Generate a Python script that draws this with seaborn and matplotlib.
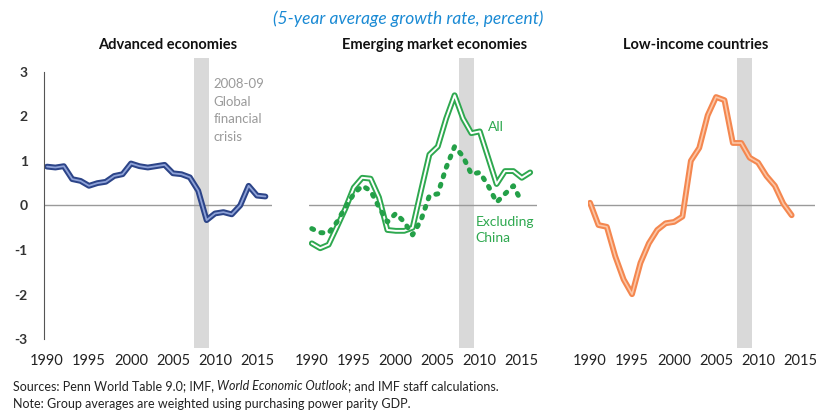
import numpy as np
import pandas as pd
import seaborn as sns
from matplotlib import pyplot as plt

sns.set_style("white")
plt.rcParams['font.family'] = ['Lato', 'DejaVu Sans']

# 5-year average growth rate, percent
years_adv = list(range(1990, 2017))
advanced = [0.87, 0.85, 0.88, 0.59, 0.55, 0.44, 0.50, 0.53, 0.66, 0.70,
            0.94, 0.88, 0.85, 0.88, 0.91, 0.72, 0.70, 0.63, 0.33, -0.33,
            -0.18, -0.15, -0.20, 0.00, 0.44, 0.22, 0.20]

years_em = list(range(1990, 2017))
em_all = [-0.85, -0.96, -0.88, -0.48, -0.07, 0.40, 0.62, 0.60, 0.18, -0.55,
          -0.57, -0.57, -0.50, 0.33, 1.14, 1.32, 1.95, 2.47, 1.95, 1.62,
          1.66, 1.07, 0.48, 0.77, 0.77, 0.62, 0.74]
years_exc = list(range(1990, 2016))
em_ex_china = [-0.52, -0.61, -0.62, -0.37, -0.04, 0.26, 0.44, 0.33, -0.04, -0.37,
               -0.18, -0.37, -0.66, -0.33, 0.22, 0.26, 0.85, 1.32, 1.10, 0.70,
               0.74, 0.44, 0.07, 0.26, 0.44, 0.07]

years_lic = list(range(1990, 2015))
low_income = [0.06, -0.44, -0.48, -1.14, -1.66, -1.99, -1.29, -0.85, -0.55, -0.40,
              -0.37, -0.25, 1.00, 1.29, 2.02, 2.43, 2.36, 1.40, 1.40, 1.07,
              0.96, 0.66, 0.44, 0.04, -0.22]

xticks = [1990, 1995, 2000, 2005, 2010, 2015]

adv_df = pd.DataFrame({"year": years_adv, "value": advanced})
all_df = pd.DataFrame({"year": years_em, "value": em_all})
exc_df = pd.DataFrame({"year": years_exc, "value": em_ex_china})
lic_df = pd.DataFrame({"year": years_lic, "value": low_income})

fig = plt.figure(figsize=(8.16, 4.13), dpi=100)
w = 0.279
bottom, height = 0.157, 0.702
ax1 = fig.add_axes([0.0545, bottom, w, height])
ax2 = fig.add_axes([0.379, bottom, w, height])
ax3 = fig.add_axes([0.72, bottom, w, height])

for ax in (ax1, ax2, ax3):
    ax.set_xlim(1989.7, 2016.8)
    ax.set_ylim(-3.2, 3.3)
    ax.axvspan(2007.5, 2009.3, color="#d9d9d9", lw=0, zorder=0)
    ax.axhline(0, color="#9a9a9a", lw=1, zorder=1)
    for s in ax.spines.values():
        s.set_visible(False)
    ax.set_xticks(xticks)
    ax.set_xticklabels([str(t) for t in xticks], fontsize=10.5, color="#222222")
    ax.tick_params(axis="x", length=0, pad=4)
    ax.patch.set_alpha(0)

# advanced economies
sns.lineplot(data=adv_df, x="year", y="value", ax=ax1, color="#2c4488", lw=4.2)
sns.lineplot(data=adv_df, x="year", y="value", ax=ax1, color="#8ea2d8", lw=1.3)
ax1.spines["left"].set_visible(True)
ax1.spines["left"].set_bounds(-3, 3)
ax1.spines["left"].set_color("#555555")
ax1.set_yticks([-3, -2, -1, 0, 1, 2, 3])
ax1.set_yticklabels(["-3", "-2", "-1", "0", "1", "2", "3"], fontsize=10,
                    fontweight="bold", color="#333333")
ax1.tick_params(axis="y", direction="in", length=4, pad=12, color="#555555")
ax1.text(2009.8, 2.85, "2008-09\nGlobal\nfinancial\ncrisis", color="#9a9a9a",
         fontsize=9.5, va="top", ha="left", linespacing=1.55)

# emerging market economies
sns.lineplot(data=all_df, x="year", y="value", ax=ax2, color="#2ea84f", lw=4.2)
sns.lineplot(data=all_df, x="year", y="value", ax=ax2, color="white", lw=1.4)
sns.lineplot(data=exc_df, x="year", y="value", ax=ax2, color="#24a048", lw=3.6,
             linestyle=(0, (0.4, 1.6)), dash_capstyle="round")
ax2.set_yticks([])
ax2.text(2011.0, 1.75, "All", color="#2ea84f", fontsize=10, ha="left", va="center")
ax2.text(2009.5, -0.55, "Excluding\nChina", color="#2ea84f", fontsize=10,
         ha="left", va="center", linespacing=1.45)

# low-income countries
sns.lineplot(data=lic_df, x="year", y="value", ax=ax3, color="#f4874f", lw=4.2)
sns.lineplot(data=lic_df, x="year", y="value", ax=ax3, color="#fcc6a6", lw=1.2)
ax3.set_yticks([])

for ax in (ax1, ax2, ax3):
    ax.set_xlabel("")
    ax.set_ylabel("")

fig.text(0.206, 0.89, "Advanced economies", ha="center", va="center",
         fontsize=10.5, fontweight="bold", color="#111111")
fig.text(0.533, 0.89, "Emerging market economies", ha="center", va="center",
         fontsize=10.5, fontweight="bold", color="#111111")
fig.text(0.853, 0.89, "Low-income countries", ha="center", va="center",
         fontsize=10.5, fontweight="bold", color="#111111")
fig.text(0.5, 0.955, "(5-year average growth rate, percent)", ha="center",
         va="center", fontsize=12.5, style="italic", color="#1a8ad4")

# footnotes, with italic title in the middle
renderer = fig.canvas.get_renderer()
x = 13 / 816
parts = [("Sources: Penn World Table 9.0; IMF, ", "normal"),
         ("World Economic Outlook", "italic"),
         ("; and IMF staff calculations.", "normal")]
for txt, st in parts:
    t = fig.text(x, 0.065, txt, fontsize=9, style=st, color="#222222",
                 ha="left", va="center")
    bb = t.get_window_extent(renderer=renderer)
    x += bb.width / fig.bbox.width
fig.text(13 / 816, 0.023, "Note: Group averages are weighted using purchasing power parity GDP.",
         fontsize=9, color="#222222", ha="left", va="center")

fig.savefig("out.png", dpi=100)
